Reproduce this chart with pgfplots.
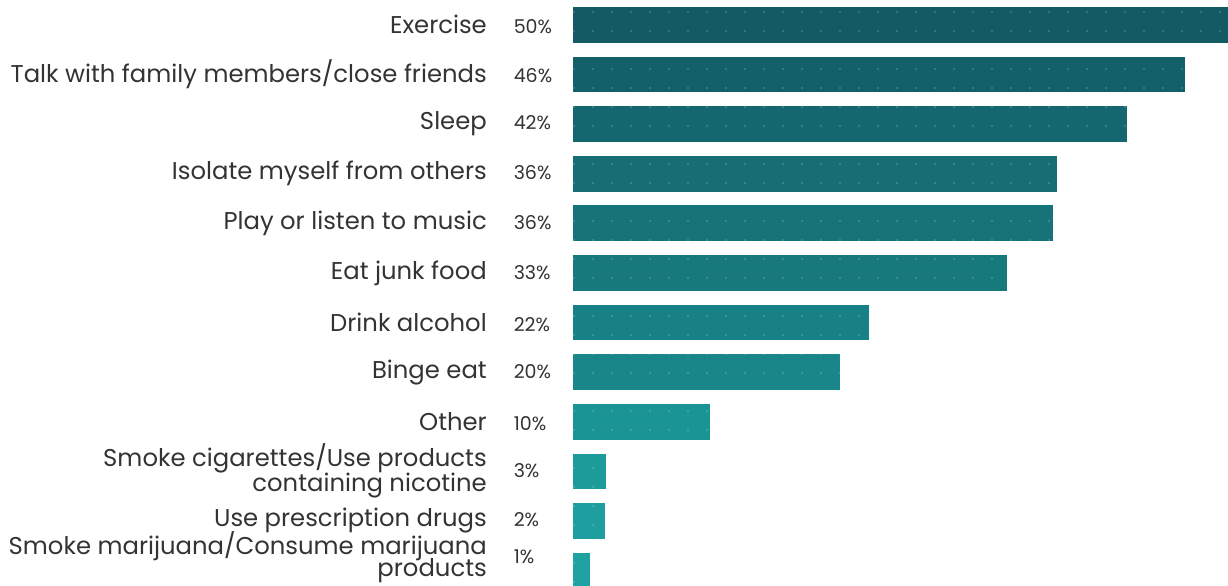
\documentclass[border=0pt]{standalone}
\usepackage{pgfplots}
\pgfplotsset{compat=1.18}
\usepackage{fontspec}
\setmainfont{Poppins}
\usetikzlibrary{patterns.meta}
\definecolor{txt}{HTML}{333333}
\definecolor{c1}{HTML}{135A65}
\definecolor{c2}{HTML}{14606A}
\definecolor{c3}{HTML}{15676F}
\definecolor{c4}{HTML}{166E74}
\definecolor{c5}{HTML}{167377}
\definecolor{c6}{HTML}{17797C}
\definecolor{c7}{HTML}{188186}
\definecolor{c8}{HTML}{19878A}
\definecolor{c9}{HTML}{1B9495}
\definecolor{c10}{HTML}{1D9B9B}
\definecolor{c11}{HTML}{1E9E9E}
\definecolor{c12}{HTML}{1FA2A2}
\newcommand{\pct}[1]{\makebox[38bp][l]{\fontsize{19bp}{20bp}\selectfont #1}}
\newcommand{\lab}[2]{#1\hspace{27bp}\pct{#2}}
\newcommand{\labb}[4][-1bp]{\begin{tabular}{@{}r@{}}#2\\[#1]#3\end{tabular}\hspace{27bp}\pct{#4}}
\begin{document}
\begin{tikzpicture}
\useasboundingbox (0,0) rectangle (1228bp,586bp);
\begin{axis}[
  at={(573bp,0bp)}, anchor=south west,
  scale only axis, width=655bp, height=586bp,
  xmin=0, xmax=49.1, ymin=-0.31, ymax=11.5,
  axis line style={draw=none}, xtick=\empty,
  ytick={0,...,11}, major tick length=0pt,
  yticklabels={
    {\raisebox{13bp}[\height][\depth]{\labb[-3bp]{Smoke marijuana/Consume marijuana}{products}{1\%}}},
    {\lab{Use prescription drugs}{2\%}},
    {\labb{Smoke cigarettes/Use products}{containing nicotine}{3\%}},
    {\lab{Other}{10\%}},
    {\lab{Binge eat}{20\%}},
    {\lab{Drink alcohol}{22\%}},
    {\lab{Eat junk food}{33\%}},
    {\lab{Play or listen to music}{36\%}},
    {\lab{Isolate myself from others}{36\%}},
    {\lab{Sleep}{42\%}},
    {\lab{Talk with family members/close friends}{46\%}},
    {\lab{Exercise}{50\%}}},
  y tick label style={inner sep=0pt, anchor=east, xshift=-21bp, text=txt, font=\fontsize{24.3bp}{24bp}\selectfont},
  xbar, bar width=0.72, bar shift=0pt,
  every axis plot/.append style={draw=none, postaction={pattern={Dots[radius=0.9bp,distance=19bp,xshift=4bp,yshift=4bp]}, pattern color=white, opacity=0.3}},
]
\addplot[fill=c1] coordinates {(49.6,11)};
\addplot[fill=c2] coordinates {(45.9,10)};
\addplot[fill=c3] coordinates {(41.5,9)};
\addplot[fill=c4] coordinates {(36.3,8)};
\addplot[fill=c5] coordinates {(36.0,7)};
\addplot[fill=c6] coordinates {(32.5,6)};
\addplot[fill=c7] coordinates {(22.2,5)};
\addplot[fill=c8] coordinates {(20.0,4)};
\addplot[fill=c9] coordinates {(10.3,3)};
\addplot[fill=c10] coordinates {(2.5,2)};
\addplot[fill=c11] coordinates {(2.4,1)};
\addplot[fill=c12] coordinates {(1.3,0)};
\end{axis}
\end{tikzpicture}
\end{document}
